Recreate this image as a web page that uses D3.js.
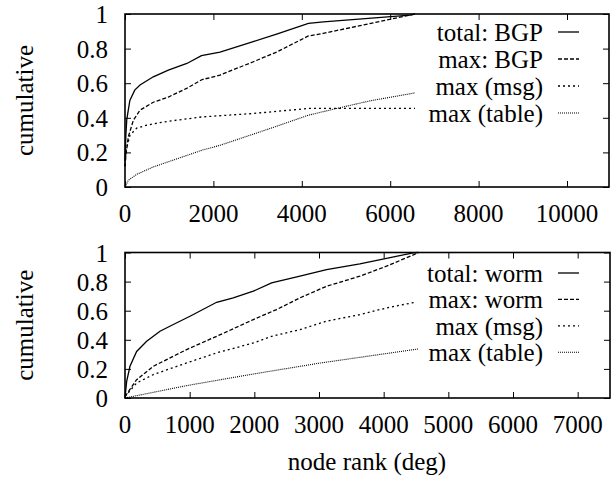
<!DOCTYPE html>
<html>
<head>
<meta charset="utf-8">
<script src="https://cdn.jsdelivr.net/npm/d3@7"></script>
<style>
  body { margin: 0; background: #fff; }
</style>
</head>
<body>
<div id="chart"></div>
<script>
"use strict";

// ---- data ----
// top panel: BGP
const bgpTotal = [[0,0.15],[20,0.3],[40,0.39],[110,0.5],[220,0.56],[340,0.59],[640,0.637],[980,0.676],
  [1400,0.714],[1730,0.759],[2150,0.78],[2900,0.84],[3430,0.884],[4150,0.946],[4490,0.955],[6450,0.994],[6560,1]];
const bgpMax = [[0,0.12],[23,0.19],[75,0.29],[189,0.386],[339,0.444],[641,0.49],[980,0.52],[1395,0.57],
  [1735,0.62],[2149,0.647],[2903,0.724],[3431,0.78],[4148,0.873],[4487,0.888],[6561,1]];
const bgpMsg = [[0,0.12],[23,0.21],[113,0.3],[264,0.34],[490,0.357],[867,0.376],[1735,0.405],[2903,0.425],
  [4148,0.454],[6561,0.454]];
const bgpTable = [[0,0],[75,0.039],[264,0.073],[641,0.116],[1735,0.212],[2149,0.241],[3281,0.338],
  [4148,0.415],[4789,0.454],[5543,0.498],[6561,0.544]];

// bottom panel: worm
const wormTotal = [[0,0],[26,0.115],[77,0.218],[180,0.32],[335,0.39],[541,0.459],[747,0.505],[1005,0.562],
  [1417,0.658],[1674,0.688],[1984,0.734],[2267,0.791],[2705,0.837],[3117,0.883],[3632,0.922],[4044,0.959],
  [4457,0.998],[4534,1]];
const wormMax = [[0,0.01],[180,0.126],[438,0.218],[953,0.333],[1417,0.424],[1984,0.539],[2344,0.608],
  [2705,0.688],[3117,0.768],[3632,0.837],[4044,0.906],[4534,0.998]];
const wormMsg = [[0,0.01],[180,0.103],[438,0.161],[953,0.241],[1417,0.31],[1984,0.378],[2267,0.424],
  [2705,0.47],[3117,0.528],[3632,0.573],[4044,0.619],[4508,0.66]];
const wormTable = [[0,0],[953,0.085],[1984,0.165],[3014,0.24],[4534,0.337]];

const bgpLabels = ["total: BGP", "max: BGP", "max (msg)", "max (table)"];
const wormLabels = ["total: worm", "max: worm", "max (msg)", "max (table)"];
const yTicks = [0, 0.2, 0.4, 0.6, 0.8, 1];
const bgpXTicks = [0, 2000, 4000, 6000, 8000, 10000];
const wormXTicks = [0, 1000, 2000, 3000, 4000, 5000, 6000, 7000];

// line styles for the four series
const dashes = [null, "4,2", "2,3", "1,1"];
const widths = [1.3, 1.3, 1.3, 1.1];

const FONT = "Liberation Serif, Tinos, Times New Roman, Times, DejaVu Serif, serif";

const svg = d3.select("#chart").append("svg")
  .attr("width", 616)
  .attr("height", 480);

function label(sel){
  return sel.attr("font-family", FONT).attr("font-size", 25).attr("fill", "#000");
}

function drawPanel(opts){
  const x = d3.scaleLinear().domain([0, opts.xMax]).range([opts.left, opts.right]);
  const y = d3.scaleLinear().domain([0, 1]).range([opts.bottom, opts.top]);
  const g = svg.append("g");

  // inward ticks on all four sides
  const tickLen = 6;
  g.append("g").attr("transform", `translate(0,${opts.bottom})`)
    .call(d3.axisBottom(x).tickValues(opts.xTicks).tickSize(-tickLen).tickFormat(""))
    .call(a => a.select(".domain").remove());
  g.append("g").attr("transform", `translate(0,${opts.top})`)
    .call(d3.axisTop(x).tickValues(opts.xTicks).tickSize(-tickLen).tickFormat(""))
    .call(a => a.select(".domain").remove());
  g.append("g").attr("transform", `translate(${opts.left},0)`)
    .call(d3.axisLeft(y).tickValues(yTicks).tickSize(-tickLen).tickFormat(""))
    .call(a => a.select(".domain").remove());
  g.append("g").attr("transform", `translate(${opts.right},0)`)
    .call(d3.axisRight(y).tickValues(yTicks).tickSize(-tickLen).tickFormat(""))
    .call(a => a.select(".domain").remove());
  g.selectAll(".tick line").attr("stroke", "#000").attr("stroke-width", 1);

  // tick labels
  g.selectAll(".xlab").data(opts.xTicks).enter().append("text")
    .attr("x", d => x(d))
    .attr("y", opts.bottom + 35)
    .attr("text-anchor", "middle")
    .call(label)
    .text(d => d);
  g.selectAll(".ylab").data(yTicks).enter().append("text")
    .attr("x", opts.left - 17)
    .attr("y", d => y(d) + 9)
    .attr("text-anchor", "end")
    .call(label)
    .text(d => d);

  // y label
  g.append("text")
    .attr("text-anchor", "middle")
    .attr("transform", `translate(33,${(opts.top + opts.bottom) / 2})rotate(-90)`)
    .call(label)
    .text("cumulative");

  // curves
  const line = d3.line().x(d => x(d[0])).y(d => y(d[1]));
  opts.series.forEach((s, i) => {
    g.append("path")
      .attr("d", line(s))
      .attr("fill", "none")
      .attr("stroke", "#000")
      .attr("stroke-width", widths[i])
      .attr("stroke-dasharray", dashes[i]);
  });

  // legend
  opts.labels.forEach((lab, i) => {
    const ly = opts.legendTop + i * opts.legendStep;
    g.append("text")
      .attr("x", 543)
      .attr("y", ly + 9)
      .attr("text-anchor", "end")
      .call(label)
      .text(lab);
    g.append("line")
      .attr("x1", 558).attr("x2", 579)
      .attr("y1", ly).attr("y2", ly)
      .attr("stroke", "#000")
      .attr("stroke-width", widths[i])
      .attr("stroke-dasharray", dashes[i]);
  });

  // frame
  g.append("rect")
    .attr("x", opts.left).attr("y", opts.top)
    .attr("width", opts.right - opts.left)
    .attr("height", opts.bottom - opts.top)
    .attr("fill", "none")
    .attr("stroke", "#000")
    .attr("stroke-width", 1.6);
}

drawPanel({
  left: 125, right: 609, top: 14, bottom: 187, xMax: 10950,
  xTicks: bgpXTicks, labels: bgpLabels,
  series: [bgpTotal, bgpMax, bgpMsg, bgpTable],
  legendTop: 32, legendStep: 27
});

drawPanel({
  left: 125, right: 610, top: 252.5, bottom: 398, xMax: 7500,
  xTicks: wormXTicks, labels: wormLabels,
  series: [wormTotal, wormMax, wormMsg, wormTable],
  legendTop: 273, legendStep: 26.4
});

svg.append("text")
  .attr("x", 367)
  .attr("y", 470)
  .attr("text-anchor", "middle")
  .call(label)
  .text("node rank (deg)");
</script>
</body>
</html>
